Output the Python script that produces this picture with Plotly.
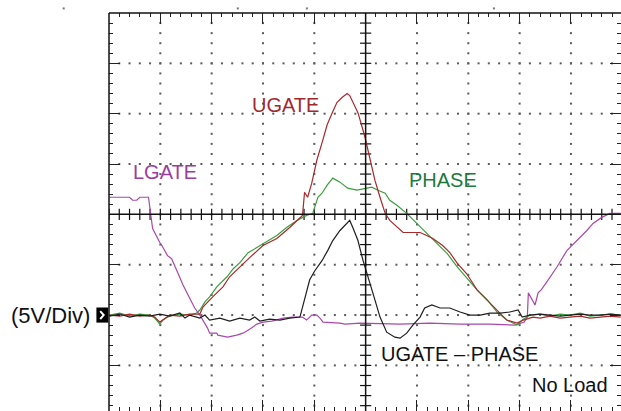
import numpy as np
import plotly.graph_objects as go

# ---- data (time in divisions, voltage in volts, 5 V/div, ground = 0 V) ----
phase_t = [0.01,0.21,0.40,0.60,0.79,0.89,0.99,1.05,1.18,1.38,1.57,1.71,1.77,1.87,1.96,2.10,2.30,2.42,2.55,2.71,
           2.88,3.07,3.27,3.46,3.66,3.85,3.97,4.07,4.15,4.25,4.36,4.50,4.65,4.83,4.99,5.12,5.24,5.38,5.47,5.61,
           5.80,6.00,6.20,6.39,6.59,6.78,6.97,7.17,7.37,7.56,7.75,7.95,8.05,8.20,8.40,8.59,8.79,8.98,9.18,9.37,
           9.57,9.77,9.97]
phase_v = [0.0,0.2,-0.1,0.1,0.0,-0.3,-0.9,-0.5,-0.1,0.1,0.0,0.2,0.5,1.3,1.8,2.8,3.8,4.6,5.2,6.2,
           6.7,7.3,7.9,8.7,9.4,9.9,10.1,11.7,12.1,12.9,13.6,13.2,12.6,12.4,12.6,12.7,12.4,12.1,11.4,10.9,
           10.1,9.1,8.1,7.1,6.1,4.8,3.7,2.5,1.5,0.3,-0.5,-1.0,-0.5,0.0,0.1,-0.1,0.1,0.0,0.2,-0.1,
           0.0,0.1,0.0]

ugate_t = [0.01,0.21,0.40,0.60,0.79,0.89,0.99,1.09,1.18,1.38,1.57,1.77,1.83,2.02,2.22,2.35,2.55,2.74,3.00,3.27,
           3.52,3.77,3.81,3.87,3.95,4.05,4.15,4.25,4.35,4.44,4.54,4.64,4.69,4.75,4.85,4.93,4.99,5.09,5.18,5.28,
           5.38,5.47,5.61,5.73,5.90,6.06,6.19,6.31,6.50,6.64,6.79,6.97,7.17,7.37,7.56,7.75,7.95,8.07,8.26,8.40,
           8.59,8.79,8.98,9.18,9.37,9.57,9.77,9.97]
ugate_v = [0.0,-0.1,0.1,-0.1,0.0,-0.2,-0.7,-0.3,0.0,-0.1,0.1,0.1,0.8,1.8,2.8,3.8,4.8,5.7,6.9,7.6,
           8.7,9.9,12.2,11.7,13.1,15.4,17.1,18.9,20.1,21.1,21.6,22.0,21.8,21.1,20.1,18.7,17.6,15.4,13.4,11.7,
           10.1,9.4,8.7,8.2,8.2,8.2,7.9,7.6,6.9,6.2,5.1,4.1,2.5,1.5,0.5,-0.5,-0.8,-0.5,-0.2,-0.3,
           -0.1,-0.3,-0.2,-0.1,-0.3,-0.2,-0.1,-0.2]

lgate_t = [0.01,0.40,0.46,0.54,0.60,0.77,0.81,0.85,0.99,1.03,1.14,1.22,1.34,1.44,1.57,1.67,1.77,1.87,1.92,1.96,
           2.10,2.12,2.31,2.49,2.61,2.74,2.88,3.00,3.17,3.39,3.58,3.77,3.85,3.95,4.05,4.11,4.17,4.50,4.60,4.89,
           5.67,6.25,6.84,7.42,7.91,8.09,8.15,8.17,8.23,8.30,8.36,8.42,8.53,8.73,8.92,9.12,9.31,9.43,9.60,9.76,
           9.97]
lgate_v = [11.7,11.7,11.4,11.4,11.7,11.7,10.1,8.6,7.2,6.9,5.9,5.6,4.2,3.0,1.7,0.7,0.0,-0.8,-1.3,-1.8,
           -1.8,-2.0,-2.2,-2.0,-1.8,-1.4,-0.9,-0.7,-0.6,-0.3,-0.2,-0.2,-0.5,0.0,0.0,-0.3,-0.7,-0.8,-0.9,-0.8,
           -0.9,-0.8,-0.9,-0.9,-1.0,-0.7,-0.2,2.2,1.7,1.0,2.2,2.5,3.3,4.8,6.4,7.4,8.4,9.1,9.7,10.1,
           10.1]

diff_t = [0.01,0.21,0.40,0.60,0.79,0.99,1.18,1.38,1.48,1.57,1.77,1.87,1.96,2.16,2.35,2.55,2.74,2.84,2.94,3.13,
          3.33,3.52,3.72,3.77,3.85,3.91,4.01,4.15,4.26,4.36,4.50,4.64,4.69,4.75,4.85,4.95,5.04,5.14,5.28,5.41,
          5.57,5.67,5.80,5.92,6.06,6.15,6.29,6.45,6.64,6.84,7.03,7.23,7.42,7.62,7.81,7.97,8.05,8.20,8.40,8.59,
          8.79,8.98,9.18,9.37,9.57,9.77,9.97]
diff_v = [-0.1,0.1,-0.2,0.0,-0.1,0.1,-0.1,0.2,-0.3,0.0,-0.3,0.0,-0.5,-0.3,-0.6,-0.3,-0.5,-0.2,-0.6,-0.4,
          -0.5,-0.3,-0.2,0.8,2.5,3.5,4.4,5.4,6.4,7.4,8.4,9.2,9.4,8.7,7.4,5.4,3.8,2.2,-0.2,-1.7,
          -2.2,-2.3,-1.8,-1.0,-0.2,0.7,1.0,0.7,0.7,0.3,0.0,0.0,0.2,0.2,0.3,0.5,-0.2,0.0,0.1,0.0,
          -0.1,0.0,0.1,0.0,0.0,0.1,0.0]

# ---- graticule geometry (divisions / volts) ----
X_MAX = 9.975
Y_TOP, Y_BOT = 30.0, -9.53
CENTER_X, CENTER_V = 5.0, 10.0

FONT = "Liberation Sans, Arial, sans-serif"
C_RED, C_GREEN, C_MAG, C_BLK = "#a8282c", "#3a9e3e", "#a948ab", "#1e1e1e"

fig = go.Figure()

# dotted grid
vx = [1, 2, 3, 4, 6, 7, 8, 9]
vy = np.arange(-9, 30, 1.0)
hx = np.arange(0.2, 10.0, 0.2)
hv = [-5, 0, 5, 15, 20, 25]
gx = [x for x in vx for _ in vy] + [x for _ in hv for x in hx]
gy = [y for _ in vx for y in vy] + [v for v in hv for _ in hx]
fig.add_trace(go.Scatter(x=gx, y=gy, mode="markers", hoverinfo="skip",
                         marker=dict(symbol="square", size=2, color="#5a5a5a", line=dict(width=0))))

# centre-axis tick crosses
ctx = np.arange(0, 10.01, 0.2)
fig.add_trace(go.Scatter(x=ctx, y=[CENTER_V] * len(ctx), mode="markers", hoverinfo="skip",
                         marker=dict(symbol="line-ns", size=8, line=dict(width=1.2, color="#111"))))
ctv = np.arange(-9, 30, 1.0)
fig.add_trace(go.Scatter(x=[CENTER_X] * len(ctv), y=ctv, mode="markers", hoverinfo="skip",
                         marker=dict(symbol="line-ew", size=8, line=dict(width=1.2, color="#111"))))

# signals
for t, v, c in [(lgate_t, lgate_v, C_MAG), (phase_t, phase_v, C_GREEN),
                (ugate_t, ugate_v, C_RED), (diff_t, diff_v, C_BLK)]:
    fig.add_trace(go.Scatter(x=t, y=v, mode="lines", hoverinfo="skip",
                             line=dict(color=c, width=1.2)))

shapes = [
    dict(type="line", xref="paper", yref="paper", x0=0, x1=1, y0=1, y1=1, line=dict(color="#111", width=1.5)),
    dict(type="line", xref="paper", yref="paper", x0=0, x1=0, y0=0, y1=1, line=dict(color="#111", width=1.5)),
    dict(type="line", xref="paper", yref="y", x0=0, x1=1, y0=CENTER_V, y1=CENTER_V, line=dict(color="#111", width=1.5)),
    dict(type="line", xref="x", yref="paper", x0=CENTER_X, x1=CENTER_X, y0=0, y1=1, line=dict(color="#111", width=1.5)),
    # ground marker
    dict(type="rect", xref="paper", yref="y", x0=-0.0246, x1=-0.0016, y0=-0.75, y1=0.75,
         fillcolor="black", line=dict(width=0)),
    dict(type="path", xref="paper", yref="y", path="M -0.0172,0.39 L -0.0104,0 L -0.0172,-0.39",
         line=dict(color="white", width=2)),
]
# tiny trigger/cursor dots above the top border
for px in [-0.0905, 0.2496, 0.3844, 0.7498]:
    shapes.append(dict(type="rect", xref="paper", yref="paper", x0=px, x1=px + 0.004,
                       y0=1.009, y1=1.014, fillcolor="#777", line=dict(width=0)))

ann = [
    dict(x=3.44, y=20.9, text="UGATE", color="#a0282e"),
    dict(x=1.095, y=14.2, text="LGATE", color="#9c3ca0"),
    dict(x=6.5, y=13.4, text="PHASE", color="#1d7a3e"),
    dict(x=6.82, y=-3.9, text="UGATE \u2013 PHASE", color="#111"),
    dict(x=8.99, y=-6.95, text="No Load", color="#111"),
]
annotations = [dict(x=a["x"], y=a["y"], xref="x", yref="y", text=a["text"], showarrow=False,
                    font=dict(family=FONT, size=20, color=a["color"])) for a in ann]
annotations.append(dict(x=-0.034, y=0.0, xref="paper", yref="y", xanchor="right", text="(5V/Div)",
                        showarrow=False, font=dict(family=FONT, size=22, color="#111")))

axis_common = dict(showgrid=False, zeroline=False, showticklabels=False, showline=False,
                   ticks="inside", ticklen=11, tickwidth=1.2, tickcolor="#222", mirror="ticks")
fig.update_layout(
    width=621, height=411,
    margin=dict(l=109.3, r=0, t=12.5, b=0, pad=0),
    paper_bgcolor="white", plot_bgcolor="white",
    showlegend=False,
    shapes=shapes, annotations=annotations,
    xaxis=dict(range=[0, X_MAX], tick0=0, dtick=1,
               minor=dict(ticks="inside", ticklen=4, dtick=0.2, tickcolor="#222", tickwidth=1), **axis_common),
    yaxis=dict(range=[Y_BOT, Y_TOP], tick0=0, dtick=5,
               minor=dict(ticks="inside", ticklen=4, dtick=1, tickcolor="#222", tickwidth=1), **axis_common),
)
fig.write_html("out.html", config={"displayModeBar": False},
               post_script="document.body.style.margin='0';document.body.style.overflow='hidden';")
